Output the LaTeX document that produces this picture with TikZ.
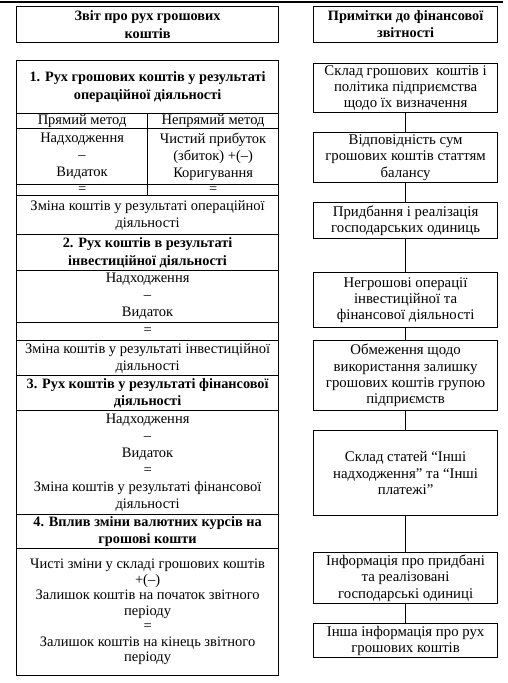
\documentclass[tikz,border=0pt]{standalone}
\usepackage{fontspec}
\setmainfont{Liberation Serif}
\begin{document}
\begin{tikzpicture}[x=1pt,y=-1pt,
  cell/.style={draw, line width=1.2pt, inner sep=0pt, anchor=north west, align=center,
    font=\fontsize{14.5}{17}\selectfont},
  hcell/.style={cell, font=\bfseries\fontsize{14.3}{17.5}\selectfont},
  lcol/.style={minimum width=262pt},
  hcol/.style={minimum width=131pt},
  rbox/.style={cell, minimum width=184pt, font=\fontsize{14.8}{16.3}\selectfont},
  link/.style={draw, line width=1.2pt}]
\useasboundingbox (0,0) rectangle (507,683);
\draw[line width=2pt] (0,2) -- (503,2);
% left column
\node[hcell, lcol, minimum height=36pt] (lh) at (16,6) {Звіт про рух грошових\\коштів};
\node[hcell, lcol, minimum height=53pt] (s1) at (16,60) {1. Рух грошових коштів у результаті\\операційної діяльності};
\node[cell, hcol, minimum height=15pt] (m1a) at (16,113) {Прямий метод};
\node[cell, hcol, minimum height=15pt] (m1b) at (147,113) {Непрямий метод};
\node[cell, hcol, minimum height=56pt] (c1a) at (16,128) {Надходження\\–\\Видаток};
\node[cell, hcol, minimum height=56pt] (c1b) at (147,128) {Чистий прибуток\\(збиток) +(–)\\Коригування};
\node[cell, hcol, minimum height=11pt] (e1a) at (16,184) {=};
\node[cell, hcol, minimum height=11pt] (e1b) at (147,184) {=};
\node[cell, lcol, minimum height=39pt] (z1) at (16,195) {Зміна коштів у результаті операційної\\діяльності};
\node[hcell, lcol, minimum height=36pt] (s2) at (16,234) {2. Рух коштів в результаті\\інвестиційної діяльності};
\node[cell, lcol, minimum height=52pt] (c2) at (16,270) {Надходження\\–\\Видаток};
\node[cell, lcol, minimum height=18pt] (e2) at (16,322) {=};
\node[cell, lcol, minimum height=35pt] (z2) at (16,340) {Зміна коштів у результаті інвестиційної\\діяльності};
\node[hcell, lcol, minimum height=35pt] (s3) at (16,375) {3. Рух коштів у результаті фінансової\\діяльності};
\node[cell, lcol, minimum height=104pt] (c3) at (16,410) {Надходження\\–\\Видаток\\=\\Зміна коштів у результаті фінансової\\діяльності};
\node[hcell, lcol, minimum height=34pt] (s4) at (16,514) {4. Вплив зміни валютних курсів на\\грошові кошти};
\node[cell, lcol, minimum height=127pt, font=\fontsize{14.5}{15.5}\selectfont] (c4) at (16,548) {Чисті зміни у складі грошових коштів\\+(–)\\Залишок коштів на початок звітного\\періоду\\=\\Залишок коштів на кінець звітного\\періоду};
% right column
\node[rbox, minimum height=36pt, font=\bfseries\fontsize{14.3}{17}\selectfont] (rh) at (313,6) {Примітки до фінансової\\звітності};
\node[rbox, minimum height=49pt] (r1) at (313,63) {Склад грошових\ \ коштів і\\політика підприємства\\щодо їх визначення};
\node[rbox, minimum height=50pt] (r2) at (313,132) {Відповідність сум\\грошових коштів статтям\\балансу};
\node[rbox, minimum height=36pt] (r3) at (313,202) {Придбання і реалізація\\господарських одиниць};
\node[rbox, minimum height=55pt] (r4) at (313,272) {Негрошові операції\\інвестиційної та\\фінансової діяльності};
\node[rbox, minimum height=70pt] (r5) at (313,340) {Обмеження щодо\\використання залишку\\грошових коштів групою\\підприємств};
\node[rbox, minimum height=85pt] (r6) at (313,430) {Склад статей “Інші\\надходження” та “Інші\\платежі”};
\node[rbox, minimum height=51pt] (r7) at (313,552) {Інформація про придбані\\та реалізовані\\господарські одиниці};
\node[rbox, minimum height=34pt] (r8) at (313,623) {Інша інформація про рух\\грошових коштів};
\draw[link] (r1.south) -- (r2.north);
\draw[link] (r2.south) -- (r3.north);
\draw[link] (r3.south) -- (r4.north);
\draw[link] (r4.south) -- (r5.north);
\draw[link] (r5.south) -- (r6.north);
\draw[link] (r6.south) -- (r7.north);
\draw[link] (r7.south) -- (r8.north);
\end{tikzpicture}
\end{document}
